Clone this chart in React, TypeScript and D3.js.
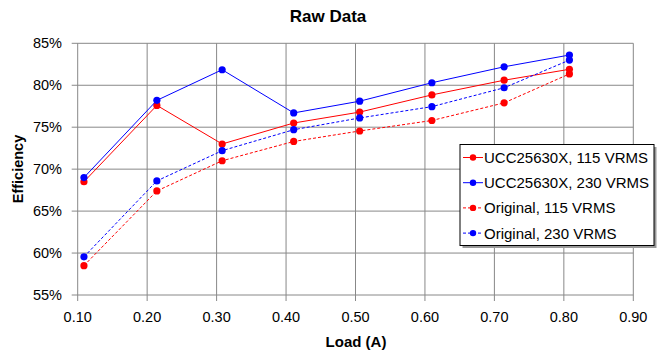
import React from "react";
import * as d3 from "d3";

const loads = [0.109, 0.214, 0.308, 0.411, 0.506, 0.61, 0.714, 0.808];
const ucc115 = [68.5, 77.6, 73.0, 75.5, 76.8, 78.85, 80.6, 81.9];
const ucc230 = [69.0, 78.2, 81.85, 76.7, 78.1, 80.3, 82.2, 83.6];
const orig115 = [58.5, 67.4, 71.0, 73.3, 74.55, 75.8, 77.9, 81.35];
const orig230 = [59.55, 68.6, 72.2, 74.7, 76.1, 77.45, 79.7, 83.0];
const xTicks = [0.1, 0.2, 0.3, 0.4, 0.5, 0.6, 0.7, 0.8, 0.9];
const yTicks = [55, 60, 65, 70, 75, 80, 85];
const seriesNames = [
  "UCC25630X, 115 VRMS",
  "UCC25630X, 230 VRMS",
  "Original, 115 VRMS",
  "Original, 230 VRMS",
];

const W = 657;
const H = 359;
const FONT = "'Liberation Sans', Arial, sans-serif";

export default function App() {
  const x = d3.scaleLinear().domain([0.1, 0.9]).range([77.7, 633.3]);
  const y = d3.scaleLinear().domain([55, 85]).range([295, 43.3]);
  const series = [
    { name: seriesNames[0], vals: ucc115, color: "#ff0000", dash: "" },
    { name: seriesNames[1], vals: ucc230, color: "#0000ff", dash: "" },
    { name: seriesNames[2], vals: orig115, color: "#ff0000", dash: "3,2" },
    { name: seriesNames[3], vals: orig230, color: "#0000ff", dash: "3,2" },
  ];
  const line = d3
    .line<number>()
    .x((_, i) => x(loads[i]))
    .y((v) => y(v));
  const [x0, x1] = x.range();
  const [yb, yt] = y.range();
  const legX = 460;
  const legY = 144.5;
  const legW = 194;
  const legH = 101;
  return (
    <svg
      width={W}
      height={H}
      style={{ position: "absolute", left: 0, top: 0, background: "#fff" }}
      fontFamily={FONT}
    >
      <rect x={0} y={0} width={W} height={H} fill="#fff" />
      <text x={328} y={22} textAnchor="middle" fontSize={17} fontWeight="bold" fill="#000">
        Raw Data
      </text>
      {/* grid */}
      {yTicks.map((t) => (
        <line key={"gy" + t} x1={x0 - 6} x2={x1} y1={y(t)} y2={y(t)} stroke="#888" strokeWidth={1} />
      ))}
      {xTicks.map((t) => (
        <line key={"gx" + t} x1={x(t)} x2={x(t)} y1={yt} y2={yb + 6} stroke="#888" strokeWidth={1} />
      ))}
      {yTicks.map((t) => (
        <text key={"ty" + t} x={62} y={y(t)} dy="0.35em" textAnchor="end" fontSize={14.5} fill="#000">
          {t}%
        </text>
      ))}
      {xTicks.map((t) => (
        <text key={"tx" + t} x={x(t)} y={317} dy="0.35em" textAnchor="middle" fontSize={14.5} fill="#000">
          {t.toFixed(2)}
        </text>
      ))}
      <text x={356} y={347} textAnchor="middle" fontSize={15} fontWeight="bold" fill="#000">
        Load (A)
      </text>
      <text
        transform={`translate(23,${169}) rotate(-90)`}
        textAnchor="middle"
        fontSize={14.5}
        fontWeight="bold"
        fill="#000"
      >
        Efficiency
      </text>
      {/* series */}
      {series.map((s, si) => (
        <g key={"s" + si}>
          <path d={line(s.vals) || ""} fill="none" stroke={s.color} strokeWidth={1} strokeDasharray={s.dash} />
          {s.vals.map((v, i) => (
            <circle key={i} cx={x(loads[i])} cy={y(v)} r={3.6} fill={s.color} />
          ))}
        </g>
      ))}
      {/* legend */}
      <rect x={legX + 2.5} y={legY + 2.5} width={legW} height={legH} fill="#999" />
      <rect x={legX} y={legY} width={legW} height={legH} fill="#fff" stroke="#000" strokeWidth={1} />
      {series.map((s, i) => {
        const cy = legY + 13 + i * 25.2;
        return (
          <g key={"l" + i}>
            <line x1={legX + 3} x2={legX + 23} y1={cy} y2={cy} stroke={s.color} strokeWidth={1} strokeDasharray={s.dash} />
            <circle cx={legX + 13} cy={cy} r={3.2} fill={s.color} />
            <text x={legX + 24} y={cy} dy="0.36em" fontSize={15} fill="#000">
              {s.name}
            </text>
          </g>
        );
      })}
    </svg>
  );
}
